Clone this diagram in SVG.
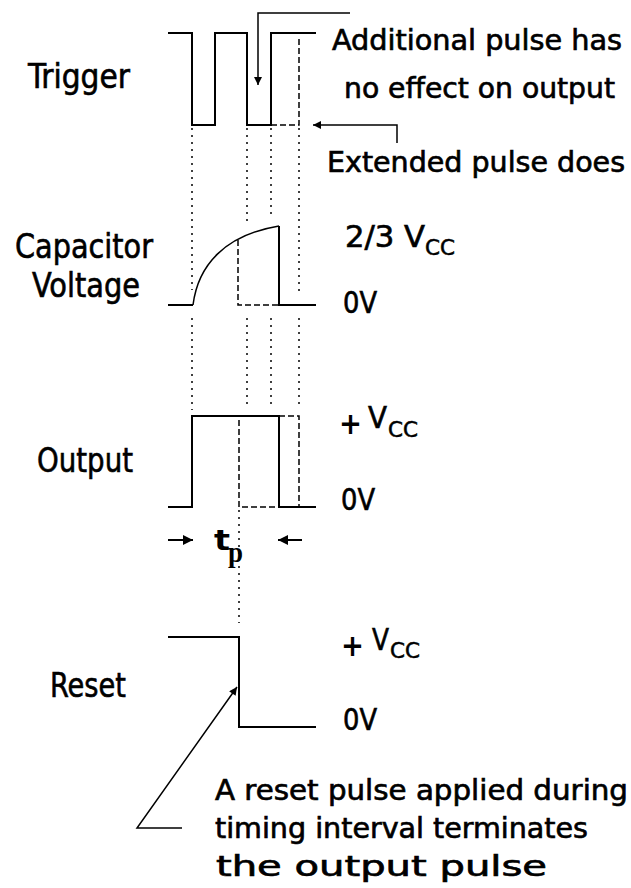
<svg xmlns="http://www.w3.org/2000/svg" width="631" height="888" viewBox="0 0 631 888">
<style>
  .w { fill: none; stroke: #000; stroke-width: 2; stroke-linejoin: miter; stroke-linecap: butt; }
  .dash { fill: none; stroke: #000; stroke-width: 1.5; stroke-dasharray: 6 3; }
  .dot { fill: none; stroke: #000; stroke-width: 1.5; stroke-dasharray: 2 5; }
  .thin { fill: none; stroke: #000; stroke-width: 1.5; }
  .lbl { font-family: "DejaVu Sans Condensed", "DejaVu Sans", sans-serif; font-size: 34px; fill: #000; stroke: #000; stroke-width: 0.6; }
  .note { font-family: "DejaVu Sans Condensed", "DejaVu Sans", sans-serif; font-size: 28px; fill: #000; stroke: #000; stroke-width: 0.6; }
  .val { font-family: "DejaVu Sans Condensed", "DejaVu Sans", sans-serif; font-size: 30px; fill: #000; stroke: #000; stroke-width: 0.6; }
  .plus { font-family: "DejaVu Sans", sans-serif; font-weight: bold; font-size: 30px; fill: #000; }
  .sub { font-family: "DejaVu Sans Condensed", "DejaVu Sans", sans-serif; font-size: 21px; fill: #000; stroke: #000; stroke-width: 0.5; }
</style>
<defs>
  <marker id="ah" viewBox="0 0 10 10" refX="10" refY="5" markerUnits="userSpaceOnUse" markerWidth="15" markerHeight="8" orient="auto">
    <path d="M0,0 L10,5 L0,10 z" fill="#000"/>
  </marker>
  <marker id="ahs" viewBox="0 0 10 10" refX="10" refY="5" markerUnits="userSpaceOnUse" markerWidth="11" markerHeight="10" orient="auto">
    <path d="M0,0 L10,5 L0,10 z" fill="#000"/>
  </marker>
</defs>

<g id="labels">
  <text class="lbl" x="28" y="88" textLength="102" lengthAdjust="spacingAndGlyphs">Trigger</text>
  <text class="lbl" x="15" y="258" textLength="138" lengthAdjust="spacingAndGlyphs">Capacitor</text>
  <text class="lbl" x="32" y="297" textLength="108" lengthAdjust="spacingAndGlyphs">Voltage</text>
  <text class="lbl" x="37" y="472" textLength="96" lengthAdjust="spacingAndGlyphs">Output</text>
  <text class="lbl" x="50" y="697" textLength="76" lengthAdjust="spacingAndGlyphs">Reset</text>
</g>

<g id="trigger">
  <path class="w" d="M168,33 H192 V125 H215 V33 H247 V125 H271 V33 H316"/>
  <path class="dash" d="M271,125 H299 V38"/>
</g>

<g id="capacitor">
  <path class="w" d="M168,305 H193"/>
  <path class="thin" d="M193,305 C198,265 225,235 279,226"/>
  <path class="w" d="M279,226 V305 H316"/>
  <path class="dash" d="M238,240 V305 H279"/>
  <text class="val" x="345" y="247" textLength="80" lengthAdjust="spacingAndGlyphs">2/3 V</text>
  <text class="sub" x="425" y="255" textLength="30" lengthAdjust="spacingAndGlyphs">CC</text>
  <text class="val" x="343" y="313" textLength="34" lengthAdjust="spacingAndGlyphs">0V</text>
</g>

<g id="output">
  <path class="w" d="M168,507 H192 V416 H279 V507 H316"/>
  <path class="dash" d="M279,416 H299 V507"/>
  <path class="dash" d="M239,420 V507 H279"/>
  <text class="plus" x="339" y="434" textLength="23" lengthAdjust="spacingAndGlyphs">+</text>
  <text class="val" x="368" y="428" textLength="19" lengthAdjust="spacingAndGlyphs">V</text>
  <text class="sub" x="388" y="437" textLength="30" lengthAdjust="spacingAndGlyphs">CC</text>
  <text class="val" x="341" y="510" textLength="34" lengthAdjust="spacingAndGlyphs">0V</text>
</g>

<g id="pulse-width">
  <path class="w" d="M168,540 H193" stroke-width="2.5" marker-end="url(#ahs)"/>
  <path class="w" d="M302,540 H278" stroke-width="2.5" marker-end="url(#ahs)"/>
  <text x="214" y="550" font-family="DejaVu Sans, sans-serif" font-weight="bold" font-size="29" fill="#000" textLength="16" lengthAdjust="spacingAndGlyphs">t</text>
  <text x="228" y="562" font-family="Liberation Serif, serif" font-weight="bold" font-size="30" fill="#000" textLength="15" lengthAdjust="spacingAndGlyphs">p</text>
</g>

<g id="reset">
  <path class="w" d="M168,637 H239 V727 H316"/>
  <text class="plus" x="341" y="656" textLength="23" lengthAdjust="spacingAndGlyphs">+</text>
  <text class="val" x="372" y="650" textLength="17" lengthAdjust="spacingAndGlyphs">V</text>
  <text class="sub" x="390" y="658" textLength="30" lengthAdjust="spacingAndGlyphs">CC</text>
  <text class="val" x="343" y="730" textLength="34" lengthAdjust="spacingAndGlyphs">0V</text>
</g>

<g id="notes">
  <text class="note" x="332" y="50" textLength="290" lengthAdjust="spacingAndGlyphs">Additional pulse has</text>
  <text class="note" x="344" y="98" textLength="271" lengthAdjust="spacingAndGlyphs">no effect on output</text>
  <text class="note" x="327" y="172" textLength="298" lengthAdjust="spacingAndGlyphs">Extended pulse does</text>
  <text class="note" x="215" y="800" textLength="413" lengthAdjust="spacingAndGlyphs">A reset pulse applied during</text>
  <text class="note" x="215" y="838" textLength="373" lengthAdjust="spacingAndGlyphs">timing interval terminates</text>
  <text class="note" x="216" y="876" textLength="331" lengthAdjust="spacingAndGlyphs">the output pulse</text>
</g>

<g id="connectors">
  <path class="dot" d="M192,128 V290 M192,318 V410"/>
  <path class="dot" d="M247,128 V221 M247,318 V405"/>
  <path class="dot" d="M271,128 V219 M271,318 V405"/>
  <path class="dot" d="M299,128 V295 M299,318 V405"/>
  <path class="dot" d="M239,510 V623"/>
  <path class="thin" d="M350,13 H258 V85" marker-end="url(#ah)"/>
  <path class="thin" d="M397,143 V125 H313" marker-end="url(#ah)"/>
  <path class="thin" d="M182,828 H137 L237,687" marker-end="url(#ah)"/>
</g>
</svg>
